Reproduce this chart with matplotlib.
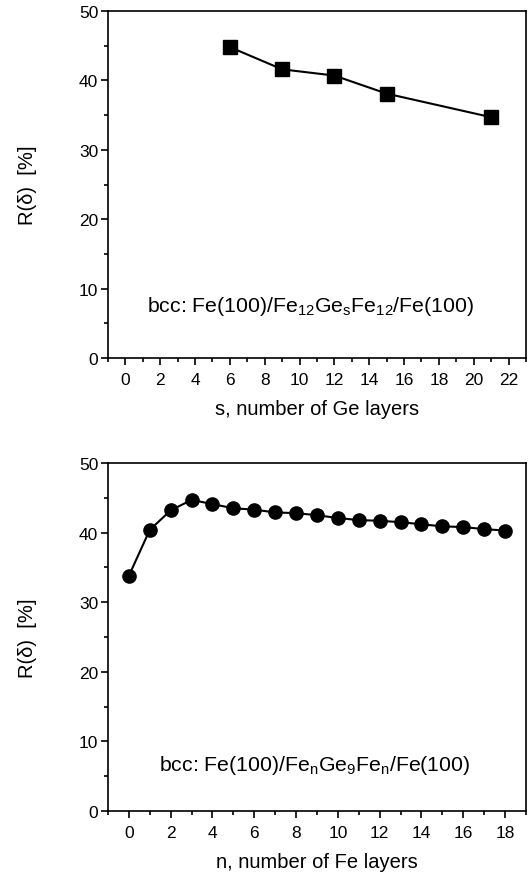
import matplotlib
matplotlib.use("Agg")
import matplotlib.pyplot as plt
from matplotlib.ticker import MultipleLocator

plt.rcParams["font.family"] = ["Liberation Sans", "DejaVu Sans"]
plt.rcParams["mathtext.fontset"] = "custom"
plt.rcParams["mathtext.rm"] = "Liberation Sans"
plt.rcParams["mathtext.it"] = "Liberation Sans"

# top panel: varying Ge layers
ge_layers = [6, 9, 12, 15, 21]
r_ge = [44.8, 41.6, 40.7, 38.1, 34.7]

# bottom panel: varying Fe layers
fe_layers = list(range(19))
r_fe = [33.8, 40.4, 43.2, 44.7, 44.1, 43.5, 43.3, 42.9, 42.8, 42.5,
        42.1, 41.8, 41.7, 41.5, 41.2, 40.9, 40.8, 40.5, 40.3]

ylabel = "R(δ)  [%]"


def style_axis(ax, xmax, xlabel):
    ax.set_ylim(0, 50)
    ax.set_xlim(-1, xmax)
    ax.xaxis.set_major_locator(MultipleLocator(2))
    ax.xaxis.set_minor_locator(MultipleLocator(1))
    ax.yaxis.set_major_locator(MultipleLocator(10))
    ax.yaxis.set_minor_locator(MultipleLocator(5))
    ax.tick_params(which="both", direction="out", width=1.2, labelsize=12.5)
    ax.tick_params(which="major", length=5)
    ax.tick_params(which="minor", length=3)
    ax.tick_params(axis="x", pad=5)
    ax.tick_params(axis="y", pad=2)
    for spine in ax.spines.values():
        spine.set_linewidth(1.2)
    ax.set_ylabel(ylabel, fontsize=14.5)
    ax.yaxis.set_label_coords(-0.17, 0.5)
    ax.set_xlabel(xlabel, fontsize=14.5)
    ax.xaxis.set_label_coords(0.5, -0.118)


fig = plt.figure(figsize=(5.32, 8.79), dpi=100)
ax1 = fig.add_axes([0.203, 0.5916, 0.7857, 0.3947])
ax2 = fig.add_axes([0.203, 0.0762, 0.7857, 0.3959])

ax1.plot(ge_layers, r_ge, color="black", lw=1.5, marker="s", markersize=9.5)
style_axis(ax1, 23, "s, number of Ge layers")
ax1.text(10.6, 7.6, r"bcc: Fe(100)/Fe$_{12}$Ge$_{s}$Fe$_{12}$/Fe(100)",
         ha="center", va="center", fontsize=15.3)

ax2.plot(fe_layers, r_fe, color="black", lw=1.5, marker="o", markersize=9.5)
style_axis(ax2, 19, "n, number of Fe layers")
ax2.text(8.9, 6.75, r"bcc: Fe(100)/Fe$_{n}$Ge$_{9}$Fe$_{n}$/Fe(100)",
         ha="center", va="center", fontsize=15.3)

fig.savefig("out.png", dpi=100)
